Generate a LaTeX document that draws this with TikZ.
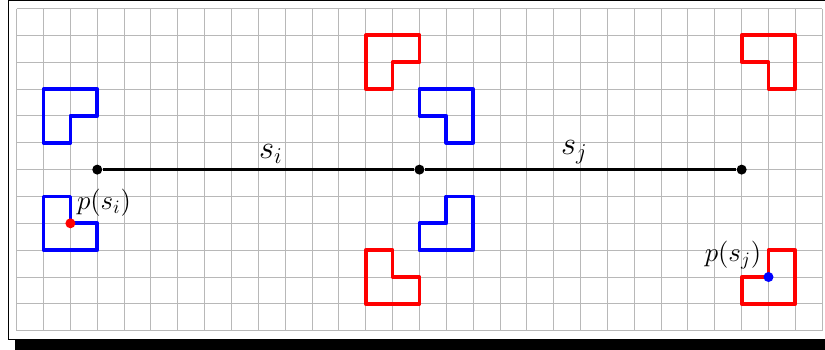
\documentclass[tikz,border=0pt]{standalone}
\begin{document}
\begin{tikzpicture}[x=0.5cm,y=0.5cm,
  gridline/.style={draw=black!28, line width=0.5pt},
  shapeline/.style={line width=2pt, line join=round},
  pdot/.style={circle, fill=#1, inner sep=0pt, minimum size=5.3pt},
  seg/.style={line width=1.7pt},
  plabel/.style={font=\Large, inner sep=0pt},
  slabel/.style={font=\LARGE, inner sep=0pt, anchor=south, yshift=2.2pt}]
\useasboundingbox (-0.622,-0.682) rectangle (30.104,12.317);
% shadow and frame
\fill[black] (-0.063,-0.9) rectangle (30.8,11.9);
\draw[line width=0.8pt, fill=white] (-0.31,-0.32) rectangle (30.5,12.3);
% grid
\draw[gridline, step=0.5cm] (0,0) grid (30,12);
% blue shapes
\draw[shapeline, blue] (1,9) -- (3,9) -- (3,8) -- (2,8) -- (2,7) -- (1,7) -- cycle;
\draw[shapeline, blue] (1,5) -- (2,5) -- (2,4) -- (3,4) -- (3,3) -- (1,3) -- cycle;
\draw[shapeline, blue] (15,9) -- (17,9) -- (17,7) -- (16,7) -- (16,8) -- (15,8) -- cycle;
\draw[shapeline, blue] (16,5) -- (17,5) -- (17,3) -- (15,3) -- (15,4) -- (16,4) -- cycle;
% red shapes
\draw[shapeline, red] (13,11) -- (15,11) -- (15,10) -- (14,10) -- (14,9) -- (13,9) -- cycle;
\draw[shapeline, red] (13,3) -- (14,3) -- (14,2) -- (15,2) -- (15,1) -- (13,1) -- cycle;
\draw[shapeline, red] (27,11) -- (29,11) -- (29,9) -- (28,9) -- (28,10) -- (27,10) -- cycle;
\draw[shapeline, red] (28,3) -- (29,3) -- (29,1) -- (27,1) -- (27,2) -- (28,2) -- cycle;
% segment
\node[pdot=black] (A) at (3,6) {};
\node[pdot=black] (B) at (15,6) {};
\node[pdot=black] (C) at (27,6) {};
\draw[seg] (A) -- node[pos=0.54, slabel] (si) {$s_i$} (B) -- node[pos=0.48, slabel] (sj) {$s_j$} (C);
% points
\node[pdot=red] (pi) at (2,4) {};
\node[pdot=blue] (pj) at (28,2) {};
\node[plabel, anchor=south west] (lpi) at ([shift={(3.3pt,3.3pt)}]pi.center) {$p(s_i)$};
\node[plabel, anchor=south east] (lpj) at ([shift={(-3.7pt,3.7pt)}]pj.center) {$p(s_j)$};
\end{tikzpicture}
\end{document}
